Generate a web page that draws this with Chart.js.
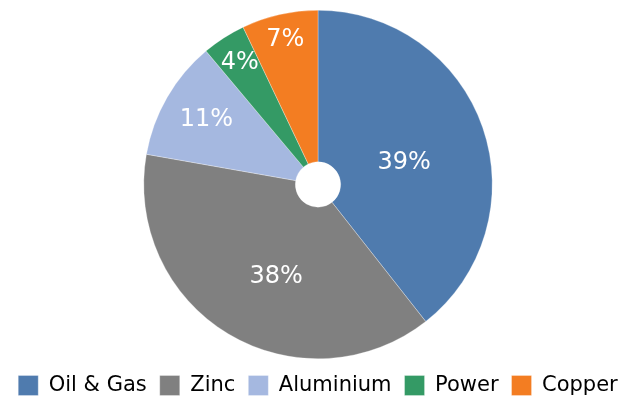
<!DOCTYPE html>
<html>
<head>
<meta charset="utf-8">
<script src="https://cdn.jsdelivr.net/npm/chart.js@4/dist/chart.umd.min.js"></script>
<style>
    html, body { margin: 0; padding: 0; background: #fff; }
    #wrap { width: 633px; height: 397px; }
</style>
</head>
<body>
<div id="wrap"><canvas id="shareChart"></canvas></div>
<script>
const categories = ['Oil & Gas', 'Zinc', 'Aluminium', 'Power', 'Copper'];
const shares = [39, 38, 11, 4, 7];
const sliceColors = ['#4f7bae', '#808080', '#a5b8e0', '#349a65', '#f37d22'];

// percentage labels drawn on top of each slice
const sliceLabels = {
    id: 'sliceLabels',
    beforeInit(chart) {
        // keep the legend strip short so the pie gets the room
        const legend = chart.legend;
        if (!legend) return;
        const fit = legend.fit;
        legend.fit = function () {
            fit.call(this);
            this.height = 38;
        };
    },
    afterLayout(chart) {
        // nudge legend row a little lower
        if (chart.legend) {
            chart.legend.top += 3;
            chart.legend.bottom += 3;
        }
    },
    afterDatasetsDraw(chart, args, opts) {
        const ctx = chart.ctx;
        const meta = chart.getDatasetMeta(0);
        const data = chart.data.datasets[0].data;
        ctx.save();
        ctx.font = opts.font;
        ctx.fillStyle = opts.color;
        ctx.textAlign = 'center';
        ctx.textBaseline = 'middle';
        meta.data.forEach((arc, i) => {
            const p = arc.getProps(['x', 'y', 'startAngle', 'endAngle', 'outerRadius']);
            const mid = (p.startAngle + p.endAngle) / 2 + opts.nudge[i] * Math.PI / 180;
            const r = p.outerRadius * opts.radius[i];
            ctx.fillText(data[i] + '%', p.x + Math.cos(mid) * r, p.y + Math.sin(mid) * r);
        });
        ctx.restore();
    }
};

document.addEventListener('DOMContentLoaded', () => {
    const canvas = document.getElementById('shareChart');

    new Chart(canvas, {
        type: 'doughnut',
        data: {
            labels: categories,
            datasets: [{
                data: shares,
                backgroundColor: sliceColors,
                borderColor: 'rgba(255,255,255,0.6)',
                borderWidth: 0.5
            }]
        },
        options: {
            responsive: true,
            maintainAspectRatio: false,
            animation: false,
            cutout: '13%',
            layout: { padding: { top: 10, left: 3 } },
            plugins: {
                tooltip: { enabled: false },
                legend: {
                    position: 'bottom',
                    labels: {
                        boxWidth: 20,
                        boxHeight: 20,
                        padding: 13,
                        color: '#000',
                        font: { family: 'DejaVu Sans', size: 21 }
                    }
                },
                sliceLabels: {
                    font: '24px "DejaVu Sans"',
                    color: '#fff',
                    radius: [0.51, 0.58, 0.74, 0.83, 0.85],
                    nudge: [5, -6.5, 0, 0, 0]
                }
            }
        },
        plugins: [sliceLabels]
    });
});
</script>
</body>
</html>
